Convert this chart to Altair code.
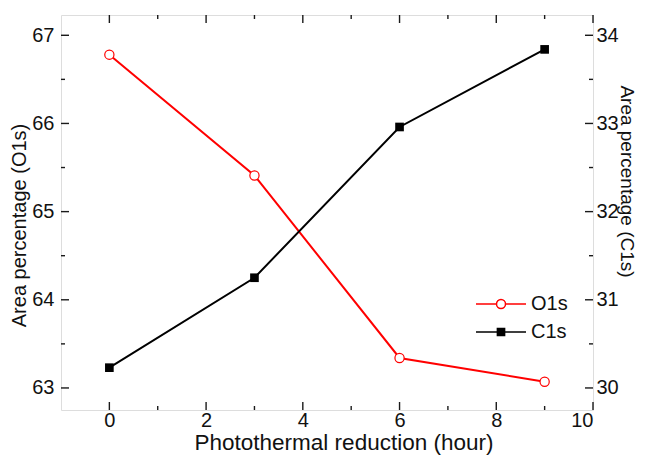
import altair as alt
import pandas as pd

# ---- data ----
hours = [0, 3, 6, 9]
o1s = [66.78, 65.41, 63.34, 63.07]
c1s = [30.23, 31.25, 32.96, 33.84]
series_names = ["O1s", "C1s"]
series_colors = ["#ff0000", "#000000"]
series_fills = ["#ffffff", "#000000"]

x_major = [0, 2, 4, 6, 8, 10]
x_minor = [1, 3, 5, 7, 9]
left_major = [63, 64, 65, 66, 67]
left_minor = [63.5, 64.5, 65.5, 66.5]
right_major = [30, 31, 32, 33, 34]
right_minor = [30.5, 31.5, 32.5, 33.5]
x_domain = [-1, 10]
left_domain = [62.75, 67.23]
right_domain = [29.75, 34.23]

W, H = 532, 395
FONT = "Liberation Sans"
TXT = "#111111"
TICK = "#1a1a1a"

df = pd.DataFrame({"hour": hours, "O1s": o1s, "C1s": c1s})
long = pd.DataFrame({
    "hour": hours + hours,
    "series": [series_names[0]] * len(hours) + [series_names[1]] * len(hours),
})

xs = alt.Scale(domain=x_domain, nice=False, zero=False)
ls = alt.Scale(domain=left_domain, nice=False, zero=False)
rs = alt.Scale(domain=right_domain, nice=False, zero=False)


def ax(orient, values, **kw):
    d = dict(orient=orient, values=values, ticks=False, domain=False, grid=False,
             labelFont=FONT, labelFontSize=20, labelColor=TXT, titleFont=FONT,
             titleColor=TXT, titleFontWeight="normal")
    d.update(kw)
    return alt.Axis(**d)


bottom_ax = ax("bottom", x_major, labelPadding=0, title="Photothermal reduction (hour)",
               titleFontSize=22.5, titleX=282.5, titleY=39, titleBaseline="alphabetic")
left_ax = ax("left", left_major, labelPadding=7, title="Area percentage (O1s)",
             titleFontSize=20, titleX=-42, titleY=210, titleBaseline="middle")
right_ax = ax("right", right_major, labelPadding=3, title="Area percentage (C1s)",
              titleFontSize=19, titleX=33, titleY=166, titleBaseline="middle")

o_line = alt.Chart(df).mark_line(color=series_colors[0], strokeWidth=2).encode(
    x=alt.X("hour:Q", scale=xs, axis=bottom_ax),
    y=alt.Y("O1s:Q", scale=ls, axis=left_ax),
)
o_pts = alt.Chart(df).mark_point(shape="circle", size=85, filled=True, fill="#ffffff",
                                 stroke=series_colors[0], strokeWidth=1.2, opacity=1).encode(
    x=alt.X("hour:Q", scale=xs, axis=None),
    y=alt.Y("O1s:Q", scale=ls, axis=None),
)
c_line = alt.Chart(df).mark_line(color=series_colors[1], strokeWidth=2).encode(
    x=alt.X("hour:Q", scale=xs, axis=None),
    y=alt.Y("C1s:Q", scale=rs, axis=right_ax),
)
c_pts = alt.Chart(df).mark_point(shape="square", size=75, filled=True,
                                 color=series_colors[1], opacity=1).encode(
    x=alt.X("hour:Q", scale=xs, axis=None),
    y=alt.Y("C1s:Q", scale=rs, axis=None),
)


# inward ticks (major 8px, minor 4px) on all four sides
def xticks(values, y0, y1):
    return alt.Chart(pd.DataFrame({"v": values})).mark_rule(color=TICK, strokeWidth=1.4).encode(
        x=alt.X("v:Q", scale=xs, axis=None), y=alt.value(y0), y2=alt.value(y1))


def yticks(values, scale, x0, x1):
    return alt.Chart(pd.DataFrame({"v": values})).mark_rule(color=TICK, strokeWidth=1.4).encode(
        y=alt.Y("v:Q", scale=scale, axis=None), x=alt.value(x0), x2=alt.value(x1))


tick_layers = [
    xticks(x_major, H, H - 8), xticks(x_minor, H, H - 4),
    xticks(x_major, 0, 8), xticks(x_minor, 0, 4),
    yticks(left_major, ls, 0, 8), yticks(left_minor, ls, 0, 4),
    yticks(right_major, rs, W, W - 8), yticks(right_minor, rs, W, W - 4),
]

# legend: line with marker symbols (symbol box 16px, path extends to the right)
path_o = ("M-1,0H1.5625M2.6875,0H5.25M1.5625,0A0.5625,0.5625 0 1,0 2.6875,0"
          "A0.5625,0.5625 0 1,0 1.5625,0Z")
path_c = "M-1,0H5.25M1.675,-0.45H2.575V0.45H1.675Z"
leg = alt.Legend(orient="none", legendX=413, legendY=279, title=None, symbolSize=256,
                 symbolStrokeWidth=1.5, symbolOpacity=1, labelFont=FONT, labelFontSize=20,
                 labelColor=TXT, labelOffset=37, rowPadding=8, padding=0)
legend_layer = alt.Chart(long).mark_point(opacity=0, filled=False).encode(
    x=alt.X("hour:Q", scale=xs, axis=None),
    color=alt.Color("series:N", scale=alt.Scale(domain=series_names, range=series_colors), legend=leg),
    fill=alt.Fill("series:N", scale=alt.Scale(domain=series_names, range=series_fills), legend=leg),
    shape=alt.Shape("series:N", scale=alt.Scale(domain=series_names, range=[path_o, path_c]), legend=leg),
)

chart = alt.layer(o_line, c_line, o_pts, c_pts, *tick_layers, legend_layer).resolve_scale(
    y="independent"
).resolve_axis(x="independent", y="independent").properties(
    width=W, height=H,
    autosize=alt.AutoSizeParams(type="none"),
    padding={"left": 53, "top": 7, "right": 44, "bottom": 45},
).configure_view(stroke="#1a1a1a", strokeWidth=1.5).configure(background="white")

chart.save("out.html", embed_options={"renderer": "svg", "actions": False})
